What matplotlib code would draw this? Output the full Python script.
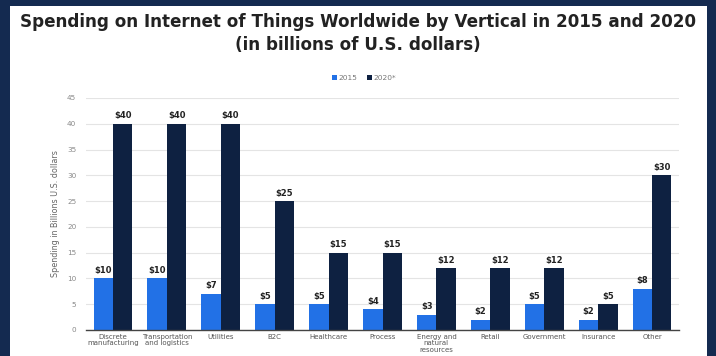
import matplotlib
matplotlib.use("Agg")
import matplotlib.pyplot as plt
import numpy as np
from matplotlib.patches import Rectangle

categories = ["Discrete\nmanufacturing", "Transportation\nand logistics", "Utilities", "B2C",
              "Healthcare", "Process", "Energy and\nnatural\nresources", "Retail",
              "Government", "Insurance", "Other"]
values_2015 = [10, 10, 7, 5, 5, 4, 3, 2, 5, 2, 8]
values_2020 = [40, 40, 40, 25, 15, 15, 12, 12, 12, 5, 30]
series_names = ["2015", "2020*"]
y_ticks = [0, 5, 10, 15, 20, 25, 30, 35, 40, 45]

plt.rcParams['font.family'] = ['DejaVu Sans']

BLUE = "#2271e6"
DARK = "#0e2141"
NAVY = "#142a50"

fig = plt.figure(figsize=(7.16, 3.56), dpi=100)
fig.patch.set_facecolor(NAVY)
fig.patches.append(Rectangle((10/716, 0), (707-10)/716, 1-6/356, transform=fig.transFigure,
                             facecolor="white", edgecolor="none", zorder=-10))

fig.text(358/716, 1-22/356, "Spending on Internet of Things Worldwide by Vertical in 2015 and 2020",
         ha="center", va="center", fontsize=12.1, fontweight="bold", color="#222222")
fig.text(358/716, 1-44.5/356, "(in billions of U.S. dollars)",
         ha="center", va="center", fontsize=12.1, fontweight="bold", color="#222222")

ax = fig.add_axes([86/716, 1-330/356, (679-86)/716, (330-98)/356], zorder=5)
ax.set_facecolor("none")
x = np.arange(len(categories))
w = 0.36
b1 = ax.bar(x - w/2, values_2015, w, color=BLUE, label=series_names[0], zorder=3)
b2 = ax.bar(x + w/2, values_2020, w, color=DARK, label=series_names[1], zorder=3)

for rect, v in zip(b1, values_2015):
    ax.text(rect.get_x() + rect.get_width()/2, v + 0.7, f"${v}", ha="center", va="bottom",
            fontsize=6.0, fontweight="bold", color="#222222")
for rect, v in zip(b2, values_2020):
    ax.text(rect.get_x() + rect.get_width()/2, v + 0.7, f"${v}", ha="center", va="bottom",
            fontsize=6.0, fontweight="bold", color="#222222")

ax.set_xlim(-0.5, len(categories) - 0.5)
ax.set_ylim(0, 45)
ax.set_yticks(y_ticks)
ax.set_yticklabels([str(t) for t in y_ticks], fontsize=5.2, color="#888888")
ax.set_xticks(x)
ax.set_xticklabels(categories, fontsize=5.0, color="#555555", linespacing=1.05)
ax.tick_params(axis="x", length=0, pad=3)
ax.tick_params(axis="y", length=0, pad=7)
ax.grid(axis="y", color="#e4e4e4", linewidth=0.8, zorder=0)
for s in ["top", "right", "left"]:
    ax.spines[s].set_visible(False)
ax.spines["bottom"].set_color("#444444")
ax.spines["bottom"].set_linewidth(1.0)
ax.spines["bottom"].set_zorder(4)
ax.set_ylabel("Spending in Billions U.S. dollars", fontsize=5.8, color="#666666", labelpad=5)

fig.legend(handles=[b1, b2], labels=series_names, loc="center", bbox_to_anchor=(364/716, 1-78/356),
           ncol=2, frameon=False, fontsize=5.4, handlelength=0.6, handleheight=0.6,
           handletextpad=0.2, columnspacing=1.3, labelcolor="#777777")

fig.savefig("out.png", dpi=100, facecolor=fig.get_facecolor())
